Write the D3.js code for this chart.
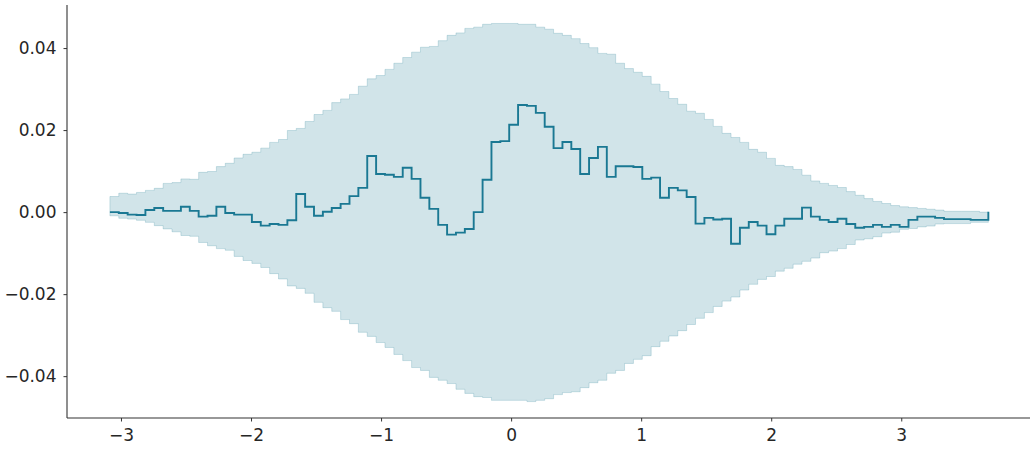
<!DOCTYPE html>
<html>
<head>
<meta charset="utf-8">
<script src="https://cdn.jsdelivr.net/npm/d3@7/dist/d3.min.js"></script>
<style>
  body { margin: 0; background: #fff; }
  svg { display: block; }
  .tick text { font-family: "DejaVu Sans", sans-serif; font-size: 17px; fill: #262626; }
  .tick line { stroke: #333; stroke-width: 1; }
</style>
</head>
<body>
<svg id="chart" width="1035" height="450"></svg>
<script>
// bin grid (left edge of first bin, bin width)
const xStart = -3.085;
const xStep = 0.06823;

// observed statistic per bin (last entry = end point)
const observed = [
  0.0000, -0.0002, -0.0006, -0.0007, 0.0005, 0.0010, 0.0003, 0.0003, 0.0013, 0.0003,
  -0.0011, -0.0009, 0.0013, -0.0002, -0.0006, -0.0006, -0.0024, -0.0033, -0.0029, -0.0031,
  -0.0020, 0.0044, 0.0013, -0.0009, 0.0001, 0.0010, 0.0020, 0.0039, 0.0059, 0.0137,
  0.0093, 0.0091, 0.0086, 0.0108, 0.0081, 0.0035, 0.0008, -0.0031, -0.0055, -0.0050,
  -0.0041, 0.0000, 0.0079, 0.0171, 0.0173, 0.0213, 0.0261, 0.0259, 0.0242, 0.0208,
  0.0156, 0.0171, 0.0154, 0.0093, 0.0132, 0.0159, 0.0086, 0.0112, 0.0112, 0.0110,
  0.0081, 0.0084, 0.0035, 0.0059, 0.0053, 0.0037, -0.0028, -0.0014, -0.0018, -0.0016,
  -0.0077, -0.0038, -0.0024, -0.0033, -0.0054, -0.0033, -0.0016, -0.0016, 0.0011, -0.0011,
  -0.0019, -0.0024, -0.0016, -0.0029, -0.0038, -0.0036, -0.0031, -0.0036, -0.0031, -0.0036,
  -0.0019, -0.0011, -0.0011, -0.0014, -0.0017, -0.0017, -0.0017, -0.0019, -0.0019, 0.0001
];

// upper edge of the band per bin
const bandUpper = [
  0.0038, 0.0046, 0.0044, 0.0048, 0.0053, 0.0058, 0.0070, 0.0072, 0.0081, 0.0080,
  0.0097, 0.0099, 0.0111, 0.0119, 0.0132, 0.0141, 0.0146, 0.0156, 0.0170, 0.0177,
  0.0199, 0.0204, 0.0221, 0.0238, 0.0248, 0.0267, 0.0276, 0.0287, 0.0307, 0.0325,
  0.0333, 0.0348, 0.0363, 0.0377, 0.0390, 0.0402, 0.0404, 0.0418, 0.0431, 0.0437,
  0.0448, 0.0451, 0.0458, 0.0460, 0.0460, 0.0460, 0.0458, 0.0458, 0.0451, 0.0446,
  0.0436, 0.0431, 0.0423, 0.0411, 0.0401, 0.0387, 0.0385, 0.0363, 0.0350, 0.0341,
  0.0331, 0.0312, 0.0294, 0.0277, 0.0263, 0.0246, 0.0241, 0.0226, 0.0209, 0.0192,
  0.0182, 0.0170, 0.0153, 0.0146, 0.0131, 0.0114, 0.0111, 0.0104, 0.0090, 0.0076,
  0.0070, 0.0065, 0.0060, 0.0050, 0.0041, 0.0033, 0.0026, 0.0021, 0.0016, 0.0013,
  0.0011, 0.0009, 0.0007, 0.0005, 0.0002, 0.0002, 0.0002, 0.0002, 0.0000
];

// lower edge of the band per bin
const bandLower = [
  -0.0009, -0.0015, -0.0017, -0.0020, -0.0025, -0.0033, -0.0041, -0.0048, -0.0057, -0.0059,
  -0.0074, -0.0082, -0.0089, -0.0093, -0.0108, -0.0118, -0.0125, -0.0135, -0.0150, -0.0163,
  -0.0180, -0.0186, -0.0198, -0.0220, -0.0233, -0.0242, -0.0262, -0.0272, -0.0293, -0.0303,
  -0.0318, -0.0330, -0.0347, -0.0362, -0.0379, -0.0386, -0.0403, -0.0410, -0.0418, -0.0432,
  -0.0442, -0.0450, -0.0452, -0.0459, -0.0459, -0.0459, -0.0459, -0.0462, -0.0459, -0.0455,
  -0.0445, -0.0440, -0.0438, -0.0428, -0.0416, -0.0410, -0.0393, -0.0386, -0.0369, -0.0359,
  -0.0350, -0.0328, -0.0315, -0.0302, -0.0289, -0.0274, -0.0259, -0.0245, -0.0230, -0.0217,
  -0.0207, -0.0190, -0.0176, -0.0164, -0.0157, -0.0144, -0.0137, -0.0127, -0.0120, -0.0112,
  -0.0099, -0.0095, -0.0089, -0.0079, -0.0068, -0.0065, -0.0060, -0.0051, -0.0049, -0.0042,
  -0.0040, -0.0036, -0.0034, -0.0029, -0.0028, -0.0028, -0.0028, -0.0025, -0.0025
];

const xTicks = [-3, -2, -1, 0, 1, 2, 3];
const yTicks = [-0.04, -0.02, 0.00, 0.02, 0.04];

const lineColor = "#1a7893";

const svg = d3.select("#chart"),
    margin = {top: 5, right: 5, bottom: 32, left: 67},
    width = 1035 - margin.left - margin.right,
    height = 450 - margin.top - margin.bottom;

const x = d3.scaleLinear().domain([-3.415, 3.99]).range([0, width]);
const y = d3.scaleLinear().domain([-0.0502, 0.0505]).range([height, 0]);

const g = svg.append("g")
    .attr("transform", "translate(" + margin.left + "," + margin.top + ")");

// edges of every bin, one more than the number of bins
const edges = d3.range(observed.length).map(i => xStart + i * xStep);

// band rows: repeat the last value so the step reaches the final edge
const bandData = edges.map((e, i) => ({
    x: e,
    lo: bandLower[Math.min(i, bandLower.length - 1)],
    hi: bandUpper[Math.min(i, bandUpper.length - 1)]
}));

const band = d3.area()
    .curve(d3.curveStepAfter)
    .x(d => x(d.x))
    .y0(d => y(d.lo))
    .y1(d => y(d.hi));

g.append("path")
    .datum(bandData)
    .attr("d", band)
    .attr("fill", lineColor)
    .attr("fill-opacity", 0.2)
    .attr("stroke", lineColor)
    .attr("stroke-opacity", 0.2)
    .attr("stroke-width", 1);

const lineData = edges.map((e, i) => ({x: e, v: observed[i]}));

const valueline = d3.line()
    .curve(d3.curveStepAfter)
    .x(d => x(d.x))
    .y(d => y(d.v));

g.append("path")
    .datum(lineData)
    .attr("d", valueline)
    .attr("fill", "none")
    .attr("stroke", lineColor)
    .attr("stroke-width", 1.9)
    .attr("stroke-linejoin", "miter");

// axes
const xAxis = g.append("g")
    .attr("transform", "translate(0," + height + ")")
    .call(d3.axisBottom(x).tickValues(xTicks).tickSize(3.5).tickPadding(7).tickFormat(d3.format("d")));

const yAxis = g.append("g")
    .call(d3.axisLeft(y).tickValues(yTicks).tickSize(3.5).tickPadding(7).tickFormat(d3.format(".2f")));

xAxis.select(".domain").remove();
yAxis.select(".domain").remove();

// left and bottom spines only
g.append("line")
    .attr("x1", 0).attr("x2", 0)
    .attr("y1", 0).attr("y2", height)
    .attr("stroke", "#333").attr("stroke-width", 1.1);

g.append("line")
    .attr("x1", 0).attr("x2", width)
    .attr("y1", height).attr("y2", height)
    .attr("stroke", "#333").attr("stroke-width", 1.1);
</script>
</body>
</html>
